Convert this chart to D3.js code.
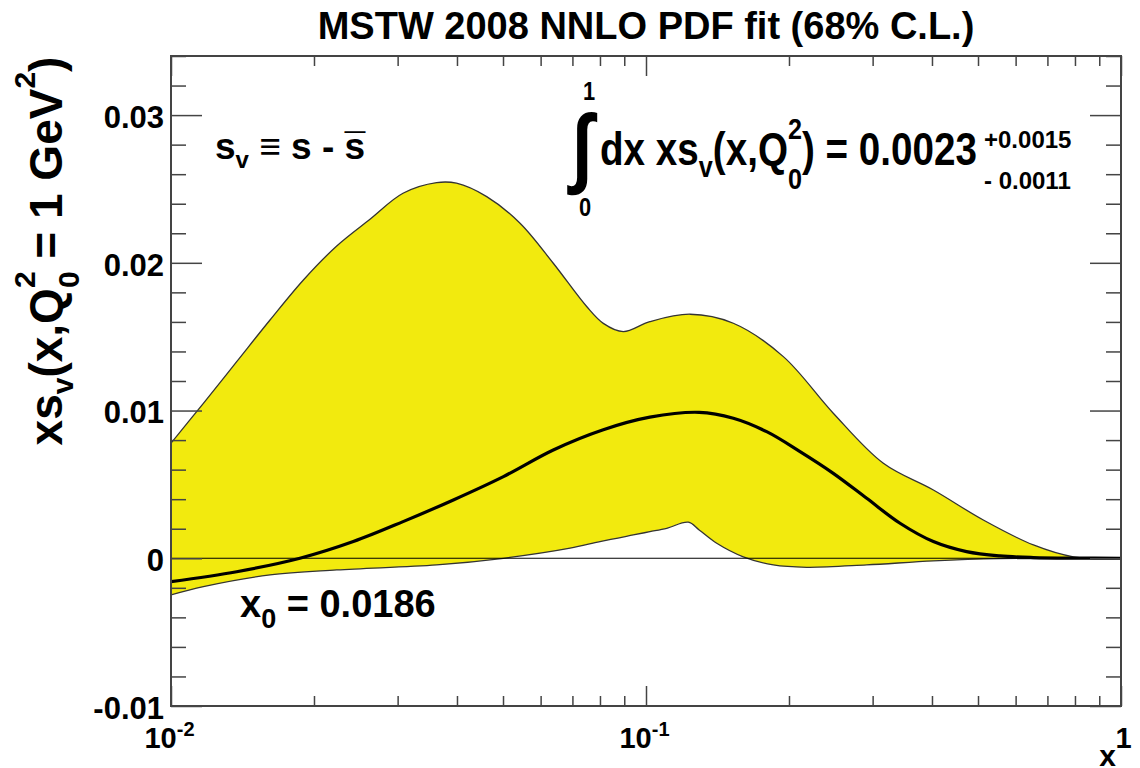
<!DOCTYPE html>
<html>
<head>
<meta charset="utf-8">
<script src="https://cdn.jsdelivr.net/npm/d3@7"></script>
<style>
  body { margin: 0; background: #fff; }
  svg text { font-family: "Liberation Sans", Arial, Helvetica, sans-serif; font-weight: bold; fill: #000; }
</style>
</head>
<body>
<div id="chart"></div>
<script>
// ---- data ----
var xTickVals = [0.01, 0.1, 1];
var xTickExp = ["-2", "-1", null];
var yTickVals = [-0.01, 0, 0.01, 0.02, 0.03];
var yTickLabels = ["-0.01", "0", "0.01", "0.02", "0.03"];

// upper edge of the 68% C.L. band
var upperX = [0.01, 0.0117, 0.01375, 0.01616, 0.019, 0.02233, 0.02624, 0.03079, 0.03625, 0.0399,
              0.0462, 0.0543, 0.0638, 0.075, 0.0813, 0.0896, 0.1019, 0.1238, 0.1527, 0.1946,
              0.2479, 0.316, 0.4027, 0.513, 0.654, 0.794, 1.0];
var upperY = [0.00779, 0.01049, 0.01331, 0.01613, 0.01884, 0.02114, 0.02295, 0.02471, 0.02543, 0.02539,
              0.02448, 0.02268, 0.01997, 0.01704, 0.0159, 0.01534, 0.01602, 0.01652, 0.01591, 0.01365,
              0.00982, 0.00643, 0.00462, 0.00259, 0.0009, 0.0001, 0];

// central fit
var centralX = [0.01, 0.01375, 0.01868, 0.0242, 0.0308, 0.0393, 0.0501, 0.0638, 0.0813, 0.1019,
                0.1294, 0.1527, 0.1795, 0.211, 0.2479, 0.2915, 0.3426, 0.4027, 0.473, 0.556,
                0.654, 0.8, 1.0];
var centralY = [-0.00158, -0.00091, 0, 0.00113, 0.00248, 0.00395, 0.00553, 0.00733, 0.0087, 0.00955,
                0.00988, 0.00948, 0.00857, 0.00722, 0.00575, 0.00406, 0.00237, 0.00113, 0.00045, 0.00016,
                0.00005, 0.00001, 0];

// lower edge of the band
var lowerX = [0.01, 0.0117, 0.01616, 0.02233, 0.03625, 0.0501, 0.0692, 0.08, 0.094, 0.1019,
              0.1106, 0.1228, 0.1294, 0.1409, 0.1603, 0.1854, 0.2179, 0.2915, 0.4027, 0.556, 1.0];
var lowerY = [-0.00248, -0.00192, -0.00113, -0.00079, -0.00045, 0, 0.00068, 0.00113, 0.00158, 0.0018,
              0.00203, 0.00244, 0.00192, 0.00102, 0.0001, -0.00045, -0.00061, -0.00045, -0.00018, -0.00003, 0];

// ---- layout ----
var margin = {top: 56, right: 19, bottom: 62, left: 171},
    width = 950,
    height = 650;

var root = d3.select("#chart")
  .append("svg")
    .attr("width", 1140)
    .attr("height", 768);

var svg = root.append("g")
    .attr("transform", "translate(" + margin.left + "," + margin.top + ")");

var x = d3.scaleLog().domain([0.01, 1]).range([0, width]);
var y = d3.scaleLinear().domain([-0.01, 0.034]).range([height, 0]);

svg.append("clipPath").attr("id", "frameClip")
  .append("rect").attr("width", width).attr("height", height);

// band + lines
var lineGen = d3.line()
    .x(function(d) { return x(d[0]); })
    .y(function(d) { return y(d[1]); })
    .curve(d3.curveCatmullRom.alpha(0.5));

var upperPts = upperX.map(function(v, i) { return [v, upperY[i]]; });
var lowerPts = lowerX.map(function(v, i) { return [v, lowerY[i]]; });
var centralPts = centralX.map(function(v, i) { return [v, centralY[i]]; });

var plot = svg.append("g").attr("clip-path", "url(#frameClip)");

plot.append("path")
    .attr("d", lineGen(upperPts) + lineGen(lowerPts.slice().reverse()).replace(/^M/, "L") + "Z")
    .style("fill", "#f2ea0e")
    .style("stroke", "none");

[upperPts, lowerPts].forEach(function(pts) {
  plot.append("path")
      .attr("d", lineGen(pts))
      .style("fill", "none")
      .style("stroke", "#333")
      .style("stroke-width", 1.3);
});

// zero line
plot.append("line")
    .attr("x1", 0).attr("x2", width)
    .attr("y1", y(0)).attr("y2", y(0))
    .style("stroke", "#000")
    .style("stroke-width", 1.2);

plot.append("path")
    .attr("d", lineGen(centralPts))
    .style("fill", "none")
    .style("stroke", "#000")
    .style("stroke-width", 3.2);

// ---- axes ----
var yMinor = d3.range(-0.01, 0.0341, 0.002).filter(function(v) {
  return Math.abs(v * 100 - Math.round(v * 100)) > 1e-6;
});
var xMinor = [2, 3, 4, 5, 6, 7, 8, 9].map(function(k) { return k * 0.01; })
  .concat([2, 3, 4, 5, 6, 7, 8, 9].map(function(k) { return k * 0.1; }));

function styleAxis(g) {
  g.select(".domain").remove();
  g.selectAll(".tick line").style("stroke", "#444").style("stroke-width", 1.5);
}

svg.append("g")
    .call(d3.axisLeft(y).tickValues(yTickVals).tickSize(-31).tickPadding(7)
      .tickFormat(function(d, i) { return yTickLabels[i]; }))
    .call(styleAxis)
    .selectAll("text")
      .attr("dy", "0.4em")
      .style("font-size", "31px")
      .style("font-family", null);

svg.append("g")
    .call(d3.axisLeft(y).tickValues(yMinor).tickSize(-15).tickFormat(""))
    .call(styleAxis);

svg.append("g")
    .attr("transform", "translate(" + width + ",0)")
    .call(d3.axisRight(y).tickValues(yTickVals).tickSize(-31).tickFormat(""))
    .call(styleAxis);
svg.append("g")
    .attr("transform", "translate(" + width + ",0)")
    .call(d3.axisRight(y).tickValues(yMinor).tickSize(-15).tickFormat(""))
    .call(styleAxis);

var xAxis = svg.append("g")
    .attr("transform", "translate(0," + height + ")")
    .call(d3.axisBottom(x).tickValues(xTickVals).tickSize(-20).tickFormat(""))
    .call(styleAxis);
svg.append("g")
    .attr("transform", "translate(0," + height + ")")
    .call(d3.axisBottom(x).tickValues(xMinor).tickSize(-10).tickFormat(""))
    .call(styleAxis);
svg.append("g")
    .call(d3.axisTop(x).tickValues(xTickVals).tickSize(-20).tickFormat(""))
    .call(styleAxis);
svg.append("g")
    .call(d3.axisTop(x).tickValues(xMinor).tickSize(-10).tickFormat(""))
    .call(styleAxis);

// x tick labels as 10^n
xAxis.selectAll(".tick text").each(function(d, i) {
  var t = d3.select(this)
      .attr("y", 42).attr("dy", null)
      .attr("dx", xTickExp[i] ? -2 : 2)
      .style("font-size", "29px")
      .style("font-family", null)
      .text(null);
  if (xTickExp[i]) {
    t.append("tspan").text("10");
    t.append("tspan").attr("dy", -12).style("font-size", "20px").text(xTickExp[i]);
  } else {
    t.text("1");
  }
});

// frame
svg.append("rect")
    .attr("width", width)
    .attr("height", height)
    .style("fill", "none")
    .style("stroke", "#444")
    .style("stroke-width", 2);

// ---- text ----
function rich(sel, parts) {
  parts.forEach(function(p) {
    var ts = sel.append("tspan").text(p.t);
    if (p.dy) ts.attr("dy", p.dy);
    if (p.dx) ts.attr("dx", p.dx);
    if (p.size) ts.style("font-size", p.size + "px");
  });
}

root.append("text")
    .attr("x", 646).attr("y", 39)
    .attr("text-anchor", "middle")
    .style("font-size", "38px")
    .text("MSTW 2008 NNLO PDF fit (68% C.L.)");

// x axis title
root.append("text")
    .attr("x", 1116).attr("y", 766)
    .attr("text-anchor", "end")
    .style("font-size", "30px")
    .text("x");

// y axis title
rich(root.append("text")
    .attr("transform", "translate(62,251) rotate(-90)")
    .attr("text-anchor", "middle")
    .style("font-size", "46px"), [
  {t: "xs"},
  {t: "v", size: 30, dy: 11},
  {t: "(x,Q", dy: -11},
  {t: "2", size: 30, dy: -27},
  {t: "0", size: 30, dx: -16.7, dy: 44},
  {t: " = 1 GeV", dy: -17},
  {t: "2", size: 30, dy: -27},
  {t: ")", dy: 27}
]);

// s_v definition (bar over the last s is a macron)
rich(root.append("text")
    .attr("x", 215).attr("y", 159)
    .style("font-size", "37px"), [
  {t: "s"},
  {t: "v", size: 24, dy: 9},
  {t: " \u2261 s - s", dy: -9},
  {t: "\u00AF", dx: "-0.554em"}
]);

// x0 label
rich(root.append("text")
    .attr("x", 240).attr("y", 617)
    .style("font-size", "38px"), [
  {t: "x"},
  {t: "0", size: 27, dy: 11},
  {t: " = 0.0186", dy: -11}
]);

// integral annotation
var integ = root.append("g").attr("transform", "translate(572,0) scale(0.84,1)");
integ.append("text")
    .attr("x", 0).attr("y", 176)
    .style("font-size", "88px")
    .text("\u222B");
integ.append("text")
    .attr("x", (589 - 572) / 0.84).attr("y", 100)
    .attr("text-anchor", "middle")
    .style("font-size", "26px")
    .text("1");
integ.append("text")
    .attr("x", (585 - 572) / 0.84).attr("y", 216)
    .attr("text-anchor", "middle")
    .style("font-size", "26px")
    .text("0");
rich(integ.append("text")
    .attr("x", (600 - 572) / 0.84).attr("y", 165)
    .style("font-size", "46px"), [
  {t: "dx xs"},
  {t: "v", size: 30, dy: 12},
  {t: "(x,Q", dy: -12},
  {t: "2", size: 30, dy: -26},
  {t: "0", size: 30, dx: -16.7, dy: 50},
  {t: ") = 0.0023", dy: -24}
]);
root.append("text")
    .attr("x", 984).attr("y", 148)
    .style("font-size", "24px")
    .text("+0.0015");
root.append("text")
    .attr("x", 984).attr("y", 189)
    .style("font-size", "24px")
    .text("- 0.0011");
</script>
</body>
</html>
